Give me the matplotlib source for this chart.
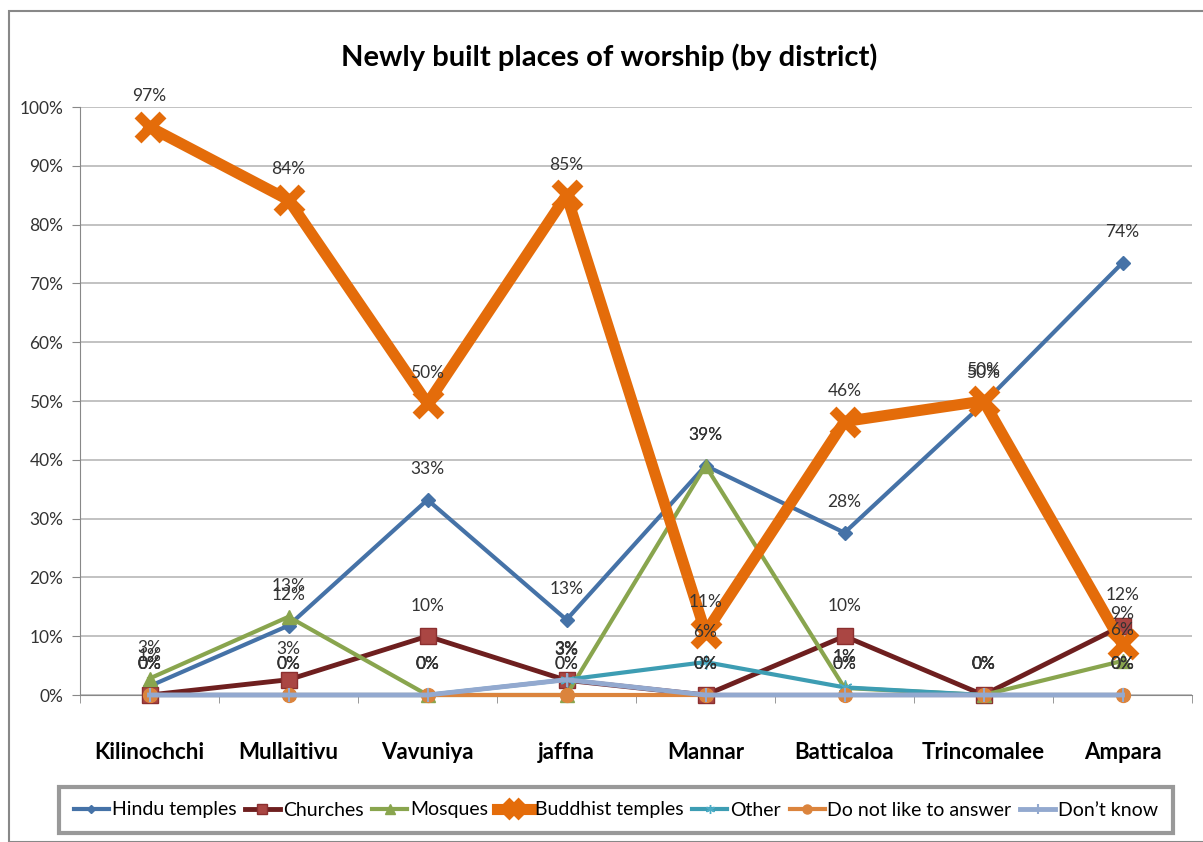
import matplotlib
matplotlib.use("Agg")
import matplotlib.pyplot as plt
from matplotlib.patches import Rectangle
from matplotlib.ticker import PercentFormatter

FONT = ['Lato', 'DejaVu Sans']
plt.rcParams['font.family'] = FONT

districts = ["Kilinochchi", "Mullaitivu", "Vavuniya", "jaffna", "Mannar",
             "Batticaloa", "Trincomalee", "Ampara"]
hindu = [1, 12, 33, 13, 39, 28, 50, 74]
churches = [0, 3, 10, 3, 0, 10, 0, 12]
mosques = [3, 13, 0, 0, 39, 1, 0, 6]
buddhist = [97, 84, 50, 85, 11, 46, 50, 9]
other = [0, 0, 0, 3, 6, 1, 0, 0]
no_answer = [0, 0, 0, 0, 0, 0, 0, 0]
dont_know = [0, 0, 0, 3, 0, 0, 0, 0]
hindu_pos = [1.5, 11.8, 33.2, 12.8, 39.0, 27.6, 49.6, 73.5]
buddhist_pos = [96.6, 84.2, 49.6, 85.0, 10.6, 46.5, 50.0, 8.6]
churches_pos = [0, 2.6, 10, 2.5, 0, 10, 0, 11.8]
mosques_pos = [2.8, 13.3, 0, 0, 39.0, 1.2, 0, 5.8]
other_pos = [0, 0, 0, 2.6, 5.6, 1.3, 0, 0]
dont_know_pos = [0, 0, 0, 2.6, 0, 0, 0, 0]

series = [
    ("Hindu temples", hindu_pos, hindu, dict(color="#4572A7", lw=3, marker="D", ms=7, mfc="#4572A7", mec="#4572A7")),
    ("Churches", churches_pos, churches, dict(color="#6E1F1F", lw=3.5, marker="s", ms=11, mfc="#AA4643", mec="#8B2F2F")),
    ("Mosques", mosques_pos, mosques, dict(color="#89A54E", lw=3, marker="^", ms=10, mfc="#89A54E", mec="#89A54E")),
    ("Buddhist temples", buddhist_pos, buddhist, dict(color="#E46C0A", lw=8, marker="x", ms=18, mew=7, mfc="#E46C0A", mec="#E46C0A")),
    ("Other", other_pos, other, dict(color="#3D9DB3", lw=3, marker=(6, 2, 0), ms=10, mew=1, mec="#4BACC6")),
    ("Do not like to answer", no_answer, no_answer, dict(color="#DB843D", lw=3, marker="o", ms=10, mfc="#DB843D", mec="#DB843D")),
    ("Don\u2019t know", dont_know_pos, dont_know, dict(color="#93A9CF", lw=3.5, marker="|", ms=10, mew=1.5, mec="#93A9CF")),
]

fig = plt.figure(figsize=(12.03, 8.42), dpi=100)
ax = fig.add_axes([80/1203, 1-695/842, 1112/1203, 588/842])

x = list(range(len(districts)))
handles = []
for name, pos, lab, st in series:
    h, = ax.plot(x, pos, label=name, zorder=3, clip_on=False, **st)
    handles.append(h)
for name, pos, lab, st in series:
    for xi, yi, v in zip(x, pos, lab):
        ax.annotate(f"{v}%", (xi, yi), xytext=(0, 22), textcoords="offset points",
                    ha="center", va="center", fontsize=12.5, color="#333333", zorder=5,
                    family=FONT)

ax.set_xlim(-0.5, 7.5)
ax.set_ylim(0, 100)
ax.set_yticks(range(0, 101, 10))
ax.yaxis.set_major_formatter(PercentFormatter(decimals=0))
ax.set_xticks(x)
ax.set_xticklabels(districts, fontsize=16, fontweight="bold")
ax.set_xticks([i - 0.5 for i in range(9)], minor=True)
ax.tick_params(axis="x", which="major", length=0, pad=34)
ax.tick_params(axis="x", which="minor", length=6, color="#888888")
ax.tick_params(axis="y", length=6, color="#888888", labelsize=12.5, pad=6)
for t in ax.get_yticklabels():
    t.set_color("#333333")
ax.grid(axis="y", color="#B8B8B8", lw=1.2, zorder=0)
ax.set_axisbelow(True)
for s in ["top", "right"]:
    ax.spines[s].set_visible(False)
ax.spines["left"].set_color("#888888")
ax.spines["bottom"].set_color("#888888")

fig.text(609/1203, 1-57/842, "Newly built places of worship (by district)",
         ha="center", va="center", fontsize=21, fontweight="bold")

fig.patches.append(Rectangle((9/1203, 0), 1.0, 1-11/842, transform=fig.transFigure,
                             fill=False, ec="#888888", lw=1.5))

leg = fig.legend(handles=handles, loc="center", bbox_to_anchor=(616/1203, 1-810/842),
                 ncol=7, frameon=True, fontsize=14, handlelength=1.8, handletextpad=0.15,
                 columnspacing=0.45, borderpad=0.75, fancybox=False, markerscale=0.65)
leg.get_frame().set_edgecolor("#808080")
leg.get_frame().set_linewidth(3)

fig.savefig("out.png", dpi=100)
